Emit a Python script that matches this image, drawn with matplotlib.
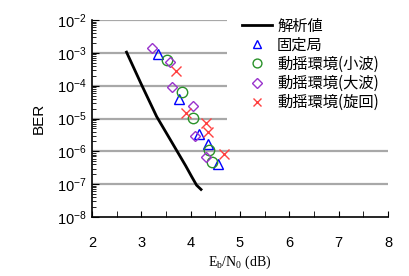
import matplotlib
matplotlib.use("Agg")
import matplotlib.pyplot as plt
import numpy as np
from matplotlib.ticker import LogLocator, MultipleLocator, NullFormatter

theory_x = [2.70, 3.00, 3.31, 3.60, 3.90, 4.02, 4.12, 4.21]
theory_y = [1.05e-3, 1.1e-4, 1.15e-5, 2.1e-6, 3.6e-7, 1.7e-7, 9.3e-8, 6.9e-8]

fixed_x = [3.33, 3.76, 4.16, 4.35, 4.56]
fixed_y = [9.5e-4, 3.8e-5, 3.4e-6, 1.66e-6, 4.1e-7]

small_x = [3.53, 3.83, 4.05, 4.38, 4.43]
small_y = [6.0e-4, 6.6e-5, 1.05e-5, 1.1e-6, 4.7e-7]

large_x = [3.21, 3.59, 3.62, 4.04, 4.09, 4.31]
large_y = [1.38e-3, 5.4e-4, 8.9e-5, 2.45e-5, 2.95e-6, 6.9e-7]

turn_x = [3.70, 3.91, 4.31, 4.36, 4.68]
turn_y = [2.8e-4, 1.5e-5, 7.4e-6, 4.0e-6, 8.3e-7]

labels = ["解析値", "固定局", "動揺環境(小波)", "動揺環境(大波)", "動揺環境(旋回)"]

plt.rcParams['font.family'] = ['Liberation Sans', 'DejaVu Sans']

fig = plt.figure(figsize=(4.10, 2.76), dpi=100)
ax = fig.add_axes([92/410, 1-217/276, (388-92)/410, (217-20)/276])

ax.set_yscale('log')
ax.set_xlim(2, 8)
ax.set_ylim(1e-8, 1e-2)

for d in range(-7, -1):
    ax.axhline(10.0**d, color='#a8a8a8', lw=1.6, zorder=0)

h1, = ax.plot(theory_x, theory_y, color='black', lw=2.0, label=labels[0], zorder=3)
h2, = ax.plot(fixed_x, fixed_y, ls='none', marker='^', ms=7.5, mfc='none', mec='#0000ff', mew=1.0, label=labels[1], zorder=4)
h3, = ax.plot(small_x, small_y, ls='none', marker='o', ms=7.5, mfc='none', mec='#2a922a', mew=1.0, label=labels[2], zorder=4)
h4, = ax.plot(large_x, large_y, ls='none', marker='D', ms=5.5, mfc='none', mec='#9933cc', mew=1.0, label=labels[3], zorder=4)
h5, = ax.plot(turn_x, turn_y, ls='none', marker='x', ms=7.5, mec='#ff4040', mew=1.0, label=labels[4], zorder=4)

ax.xaxis.set_major_locator(MultipleLocator(1))
ax.xaxis.set_minor_locator(MultipleLocator(0.5))
ax.yaxis.set_major_locator(LogLocator(base=10, numticks=10))
ax.yaxis.set_minor_locator(LogLocator(base=10, subs=np.arange(2, 10), numticks=10))
ax.yaxis.set_minor_formatter(NullFormatter())

ax.tick_params(axis='both', which='both', direction='in', labelsize=10.5, colors='black')
ax.tick_params(axis='x', which='major', length=4, pad=14)
ax.tick_params(axis='x', which='minor', length=4)
ax.tick_params(axis='y', which='major', length=5, pad=4)
ax.tick_params(axis='y', which='minor', length=3)

for s in ['top', 'right']:
    ax.spines[s].set_visible(False)
for s in ['left', 'bottom']:
    ax.spines[s].set_linewidth(1.2)

ax.set_ylabel("BER", fontsize=11, labelpad=8)
ax.set_xlabel(r"E$_\mathregular{b}$/N$_\mathregular{0}$ (dB)", fontsize=10, family='Liberation Serif', labelpad=2)

leg = fig.legend(handles=[h1, h2, h3, h4, h5], labels=labels, loc='upper left',
                 bbox_to_anchor=(227/410, 1 - 3/276), bbox_transform=fig.transFigure,
                 frameon=True, framealpha=1, facecolor='white', edgecolor='none',
                 prop={'family': ['Noto Sans CJK JP', 'DejaVu Sans'], 'size': 11},
                 handlelength=2.0, handletextpad=0.33, labelspacing=0.14, borderpad=0.95,
                 borderaxespad=0, markerscale=0.85, fancybox=False)

fig.savefig("out.png", dpi=100)
